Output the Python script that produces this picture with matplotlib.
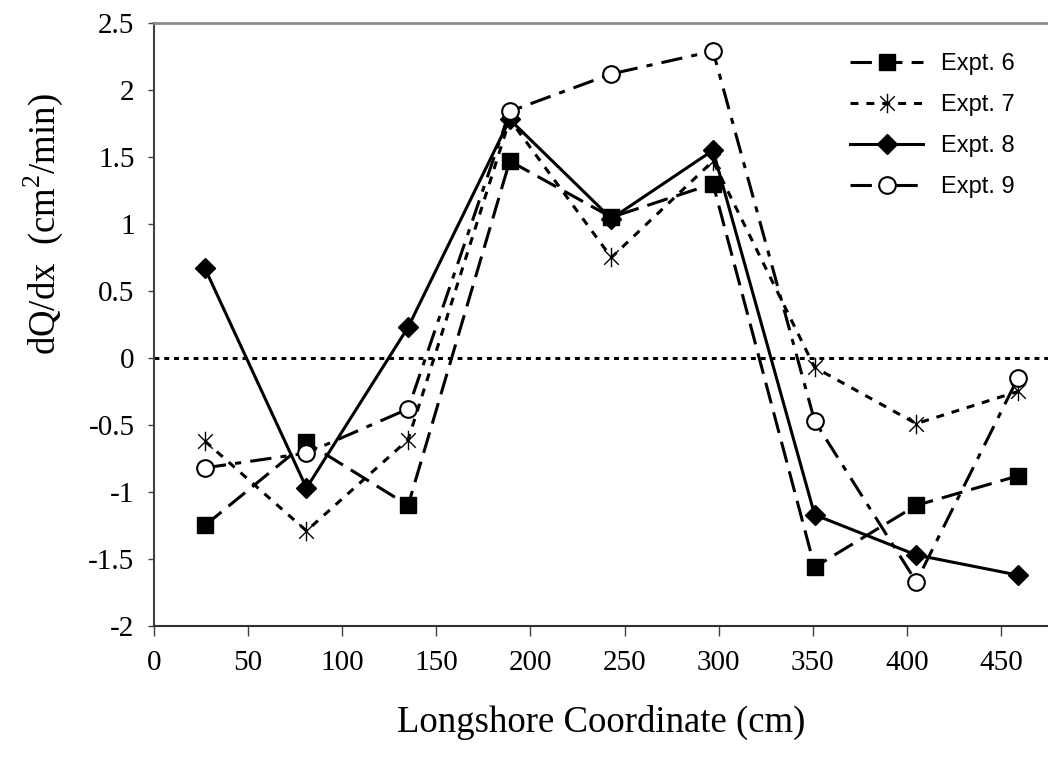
import numpy as np
import matplotlib
matplotlib.use("Agg")
import matplotlib.pyplot as plt
from matplotlib.path import Path

# data
x_pos = [27, 81, 135, 189, 243, 297, 351, 405, 459]
expt6 = [-1.25, -0.63, -1.10, 1.47, 1.05, 1.30, -1.56, -1.10, -0.88]
expt7 = [-0.62, -1.29, -0.61, 1.78, 0.75, 1.47, -0.07, -0.49, -0.25]
expt8 = [0.67, -0.97, 0.23, 1.78, 1.04, 1.55, -1.17, -1.47, -1.62]
expt9 = [-0.82, -0.71, -0.38, 1.84, 2.12, 2.29, -0.47, -1.67, -0.15]
labels = ["Expt. 6", "Expt. 7", "Expt. 8", "Expt. 9"]

plt.rcParams['font.family'] = ['Liberation Serif', 'DejaVu Serif']
plt.rcParams['mathtext.fontset'] = 'custom'
plt.rcParams['mathtext.rm'] = 'Liberation Serif'

# excel-style star: vertical bar plus an X
star = Path([(0, -1), (0, 1), (-0.75, -0.75), (0.75, 0.75), (-0.75, 0.75), (0.75, -0.75)],
            [Path.MOVETO, Path.LINETO, Path.MOVETO, Path.LINETO, Path.MOVETO, Path.LINETO])

fig = plt.figure(figsize=(10.48, 7.61), dpi=100)
ax = fig.add_axes([0.147, 0.1774, 0.853, 0.7924])

lw = 2.2
ax.axhline(0, color='k', lw=2.2, dashes=(1.6, 1.6), dash_capstyle='butt', zorder=1)

ax.plot(x_pos, expt6, color='k', lw=lw, dashes=(7, 3), marker='s', ms=12,
        mfc='k', mec='k', label=labels[0])
ax.plot(x_pos, expt7, color='k', lw=lw, dashes=(2.6, 2.6), marker=star, ms=14,
        mfc='none', mec='k', mew=1.0, label=labels[1])
ax.plot(x_pos, expt8, color='k', lw=lw, ls='-', marker='D', ms=10,
        mfc='k', mec='k', label=labels[2])
ax.plot(x_pos, expt9, color='k', lw=lw, dashes=(7, 3, 2, 3), marker='o', ms=12,
        mfc='white', mec='k', mew=1.5, label=labels[3])

ax.set_xlim(0, 475)
ax.set_ylim(-2, 2.5)
ax.set_xticks(np.arange(0, 451, 50))
ax.set_yticks(np.arange(-2, 2.51, 0.5))
ax.set_yticklabels(['-2', '-1.5', '-1', '-0.5', '0', '0.5', '1', '1.5', '2', '2.5'])

ax.spines['right'].set_visible(False)
ax.spines['top'].set_color('#8c8c8c')
ax.spines['top'].set_linewidth(2)
ax.spines['left'].set_color('#404040')
ax.spines['left'].set_linewidth(1.5)
ax.spines['bottom'].set_color('#303030')
ax.spines['bottom'].set_linewidth(1.5)

ax.tick_params(axis='y', direction='out', length=4, width=1, pad=10, labelsize=21, colors='#404040', labelcolor='k')
ax.tick_params(axis='x', direction='out', length=7, width=1, pad=10, labelsize=21, colors='#404040', labelcolor='k')

ax.set_xlabel('Longshore Coordinate (cm)', fontsize=26.5, labelpad=21)
ax.set_ylabel(r'dQ/dx  (cm$^\mathregular{2}$/min)', fontsize=26.5)
ax.yaxis.set_label_coords(-0.1, 0.667)

leg = ax.legend(loc='upper left', bbox_to_anchor=(0.811, 0.93), bbox_transform=fig.transFigure,
                frameon=False, prop={'family': 'Liberation Sans', 'size': 17},
                handlelength=3.1, handletextpad=0.76, labelspacing=0.8,
                borderpad=0, borderaxespad=0)

fig.savefig('out.png', dpi=100)
